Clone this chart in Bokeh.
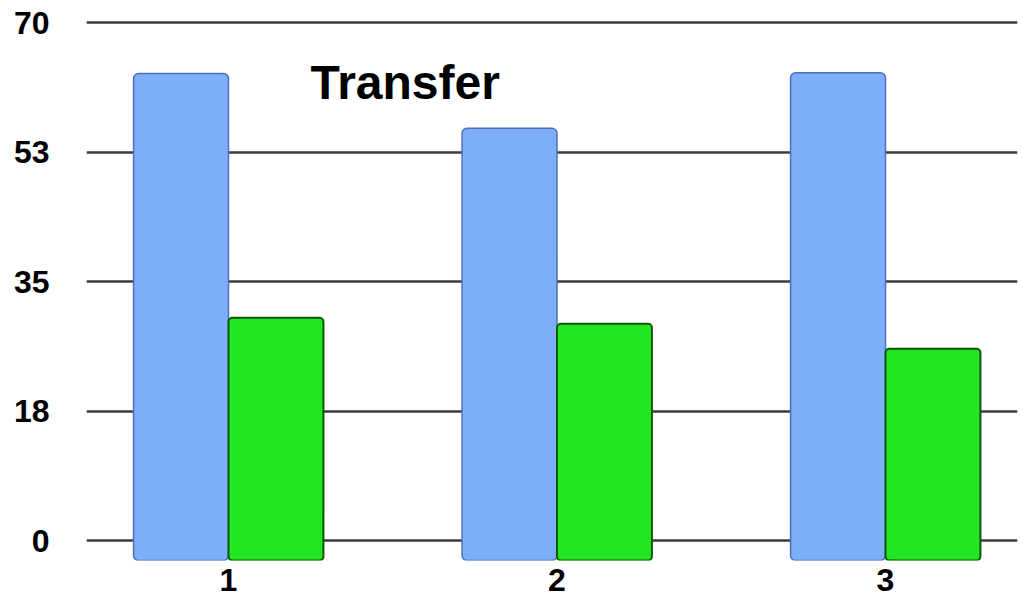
from bokeh.plotting import figure
from bokeh.models import FixedTicker, Label, Range1d, ColumnDataSource
from bokeh.transform import dodge
from bokeh.embed import file_html
from bokeh.resources import INLINE

# ---- data ----
categories = [1, 2, 3]
category_labels = ["1", "2", "3"]
blue_values = [63.1, 55.7, 63.2]
green_values = [30.1, 29.3, 25.9]
y_ticks = [0, 17.5, 35, 52.5, 70]
y_tick_labels = ["0", "18", "35", "53", "70"]
title_text = "Transfer"

# ---- layout constants ----
PX_PER_UNIT = 7.4          # vertical scale
PX_PER_CAT = 328.5         # horizontal scale
FRAME_H = 560
FRAME_W = 931
BAR_W = 0.289

y_end = 70 + 22 / PX_PER_UNIT
y_start = y_end - FRAME_H / PX_PER_UNIT
x_start = 1 - 142 / PX_PER_CAT
x_end = x_start + FRAME_W / PX_PER_CAT

source = ColumnDataSource(dict(x=categories, blue=blue_values, green=green_values))

p = figure(width=1023, height=598, output_backend="svg", toolbar_location=None,
           x_range=Range1d(x_start, x_end), y_range=Range1d(y_start, y_end),
           min_border_left=86, min_border_right=6, min_border_top=0,
           min_border_bottom=38)

p.outline_line_color = None
p.background_fill_color = "white"
p.border_fill_color = "white"
p.xgrid.grid_line_color = None
p.ygrid.grid_line_color = "#3c3c3c"
p.ygrid.grid_line_width = 2.5

base = y_start - 5

p.vbar(x=dodge("x", -BAR_W / 2, range=p.x_range), top="blue", bottom=base,
       width=BAR_W, source=source, fill_color="#7CAEF9",
       line_color="#4F6FB8", line_width=1.5, border_radius=5)
p.vbar(x=dodge("x", BAR_W / 2, range=p.x_range), top="green", bottom=base,
       width=BAR_W, source=source, fill_color="#21E621",
       line_color="#0B5A0B", line_width=2, border_radius=4)

for ax in (p.xaxis, p.yaxis):
    ax.axis_line_color = None
    ax.major_tick_line_color = None
    ax.minor_tick_line_color = None
    ax.major_label_text_font = "Liberation Sans"
    ax.major_label_text_font_style = "bold"
    ax.major_label_text_font_size = "32px"
    ax.major_label_text_color = "black"

p.xaxis.ticker = FixedTicker(ticks=categories)
p.xaxis.major_label_overrides = {c: l for c, l in zip(categories, category_labels)}
p.xaxis.major_label_standoff = 2

p.yaxis.ticker = FixedTicker(ticks=y_ticks)
p.yaxis.major_label_overrides = {float(t): l for t, l in zip(y_ticks, y_tick_labels)}
p.yaxis.major_label_standoff = 31

title = Label(x=x_start + 224 / PX_PER_CAT, y=(540 - 82) / PX_PER_UNIT,
              text=title_text, text_font="Liberation Sans", text_font_style="bold",
              text_font_size="48px", text_color="black", text_baseline="alphabetic")
p.add_layout(title)

open("out.html", "w").write(file_html(p, INLINE))
